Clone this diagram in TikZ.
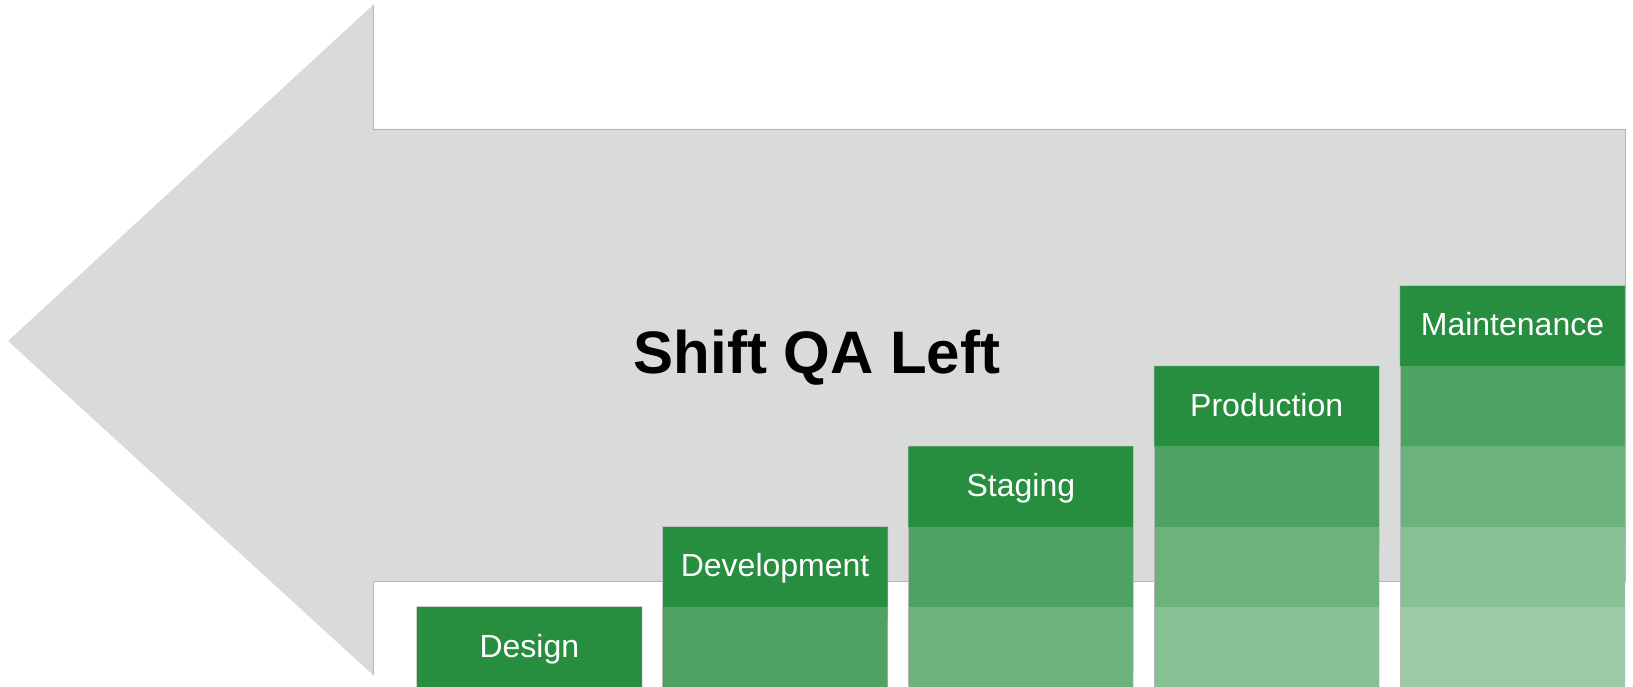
\documentclass[tikz,border=0pt]{standalone}
\usepackage{fontspec}
\setmainfont{Liberation Sans}
\usepackage{xcolor}
\usepackage{tikz}
\usetikzlibrary{positioning}
\definecolor{arrowgray}{HTML}{D9DBDA}
\definecolor{edgegray}{HTML}{B4B6B5}
\definecolor{stagegreen}{HTML}{278E3F}
\tikzset{
  stagehead/.style={fill=stagegreen, text=white, inner sep=0pt,
    minimum width=225pt, minimum height=80.3pt, text height=24pt, text depth=4pt,
    font=\fontsize{32}{38}\selectfont, anchor=north west},
  stageband/.style={inner sep=0pt, minimum width=225pt, minimum height=80.3pt,
    anchor=north west}
}

\begin{document}
\begin{tikzpicture}[x=1pt, y=-1pt]
%%%%% Frame %%%%%
\useasboundingbox (0,0) rectangle (1633,687);
%%%%% Arrow %%%%%
\fill[arrowgray] (8,341)--(373,5)--(373,129)--(1625,129)--(1625,581)--(373,581)--(373,675)--cycle;
\draw[edgegray, line width=0.6pt] (373,5)--(373,129)--(1625,129)--(1625,581)--(373,581)--(373,675);
\node[font=\bfseries\fontsize{60}{72}\selectfont, anchor=base] (title) at (817,373) {Shift QA Left};
%%%%% Stages %%%%%
\foreach \name/\lbl [count=\i from 0] in {design/Design, development/Development, staging/Staging, production/Production, maintenance/Maintenance}{
\pgfmathsetmacro{\xl}{416.6+\i*245.8}
\pgfmathsetmacro{\yt}{687-(\i+1)*80.3}
\node[stagehead] (\name) at (\xl,\yt) {\lbl};
}
\foreach \j/\pct in {1/82, 2/68, 3/56, 4/46}{
\foreach \i in {\j,...,4}{
\pgfmathsetmacro{\xl}{416.6+\i*245.8}
\pgfmathsetmacro{\yt}{687-(\i+1-\j)*80.3}
\node[stageband, fill=stagegreen!\pct!white] (band-\i-\j) at (\xl,\yt) {};
}
}
\foreach \name/\i in {design/0, development/1, staging/2, production/3, maintenance/4}{
\pgfmathsetmacro{\xr}{416.6+\i*245.8+225}
\draw[edgegray, line width=0.5pt] (\name.south west)--(\name.north west)--(\name.north east)--(\name.south east)--(\xr,687);
\draw[edgegray, line width=0.5pt] (\name.south west)--(\name.west |- 0,687);
}
\end{tikzpicture}
\end{document}
